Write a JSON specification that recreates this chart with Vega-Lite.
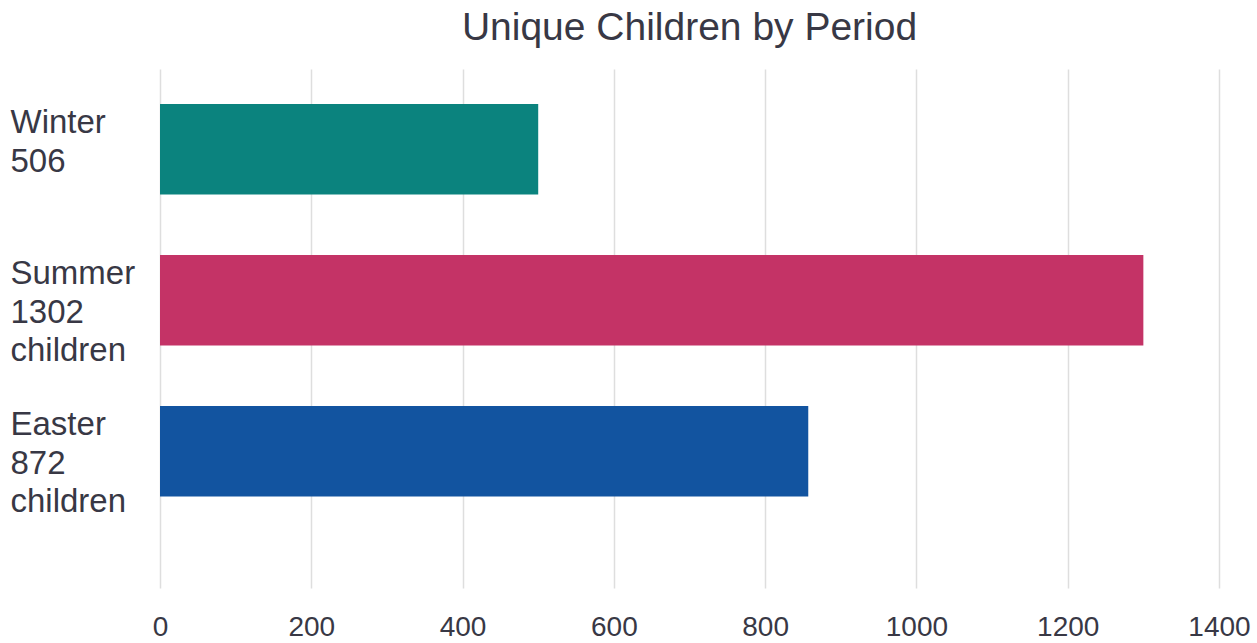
{
  "$schema": "https://vega.github.io/schema/vega-lite/v6.json",
  "width": 1059,
  "height": 519,
  "autosize": {"type": "none"},
  "padding": {"left": 160, "top": 69, "right": 38, "bottom": 55},
  "background": "white",
  "title": {
    "text": "Unique Children by Period",
    "anchor": "middle",
    "frame": "group",
    "font": "Liberation Sans",
    "fontSize": 39,
    "fontWeight": "normal",
    "color": "#383845",
    "baseline": "alphabetic",
    "offset": -10
  },
  "data": {
    "values": [
      {"period": "Winter", "label": "Winter|506", "children": 500},
      {"period": "Summer", "label": "Summer|1302|children", "children": 1300},
      {"period": "Easter", "label": "Easter|872|children", "children": 857}
    ]
  },
  "mark": {"type": "bar"},
  "encoding": {
    "y": {
      "field": "label",
      "type": "nominal",
      "sort": null,
      "title": null,
      "scale": {"paddingInner": 0.4, "paddingOuter": 0.4185, "align": 0.277},
      "axis": {
        "domain": false,
        "ticks": false,
        "tickSize": 0,
        "grid": false,
        "labelExpr": "split(datum.value, '|')",
        "labelAlign": "left",
        "labelBaseline": "alphabetic",
        "labelOffset": -16,
        "labelPadding": 150,
        "labelLineHeight": 38.5,
        "labelFont": "Liberation Sans",
        "labelFontSize": 33,
        "labelColor": "#383845",
        "labelLimit": 0
      }
    },
    "x": {
      "field": "children",
      "type": "quantitative",
      "title": null,
      "scale": {"domain": [0, 1400], "nice": false},
      "axis": {
        "values": [0, 200, 400, 600, 800, 1000, 1200, 1400],
        "format": "d",
        "domain": false,
        "ticks": false,
        "tickSize": 0,
        "grid": true,
        "gridColor": "#dedede",
        "gridWidth": 1.5,
        "labelPadding": 25,
        "labelFont": "Liberation Sans",
        "labelFontSize": 28,
        "labelColor": "#383845",
        "labelFlush": false,
        "labelOverlap": false
      }
    },
    "color": {
      "field": "period",
      "type": "nominal",
      "legend": null,
      "scale": {"domain": ["Winter", "Summer", "Easter"], "range": ["#0b837e", "#c43366", "#1254a0"]}
    }
  },
  "config": {"view": {"stroke": null}}
}
